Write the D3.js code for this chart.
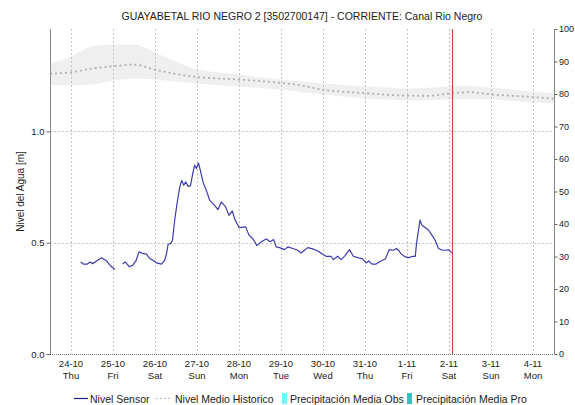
<!DOCTYPE html>
<html><head><meta charset="utf-8">
<script src="https://cdn.jsdelivr.net/npm/d3@7"></script>
<style>
body{margin:0;background:#fff}
svg{display:block}
text{font-family:"Liberation Sans",Arial,sans-serif;fill:#222}
</style>
</head><body>
<svg id="chart" width="575" height="405"></svg>
<script>
// Sensor water level [m]; null marks a gap in transmission
const sensorTime = [
  "2024-10-24 05:30","2024-10-24 07:00","2024-10-24 09:20","2024-10-24 10:50","2024-10-24 12:20",
  "2024-10-24 14:40","2024-10-24 17:30","2024-10-24 20:20","2024-10-24 22:40","2024-10-25 01:05",
  "2024-10-25 03:15",
  "2024-10-25 05:30","2024-10-25 07:00","2024-10-25 09:15","2024-10-25 11:10","2024-10-25 13:05",
  "2024-10-25 14:55","2024-10-25 16:50","2024-10-25 19:10","2024-10-25 21:00","2024-10-25 22:35",
  "2024-10-26 00:55","2024-10-26 03:45","2024-10-26 05:35","2024-10-26 06:35","2024-10-26 07:30",
  "2024-10-26 08:50","2024-10-26 10:00","2024-10-26 11:15","2024-10-26 12:35","2024-10-26 14:10",
  "2024-10-26 15:15","2024-10-26 16:25","2024-10-26 17:35","2024-10-26 18:55","2024-10-26 20:15",
  "2024-10-26 21:45","2024-10-26 22:40","2024-10-26 23:40","2024-10-27 00:50","2024-10-27 01:55",
  "2024-10-27 03:25","2024-10-27 05:20","2024-10-27 07:15","2024-10-27 10:05","2024-10-27 12:00",
  "2024-10-27 13:55","2024-10-27 16:20","2024-10-27 18:15","2024-10-27 20:10","2024-10-27 21:30",
  "2024-10-28 00:00","2024-10-28 03:50","2024-10-28 05:40","2024-10-28 07:55","2024-10-28 10:15",
  "2024-10-28 12:45","2024-10-28 15:35","2024-10-28 17:50","2024-10-28 19:45","2024-10-28 21:15",
  "2024-10-28 23:10","2024-10-29 02:00","2024-10-29 03:55","2024-10-29 06:45","2024-10-29 09:35",
  "2024-10-29 11:30","2024-10-29 15:20","2024-10-29 18:05","2024-10-29 21:00","2024-10-29 23:50",
  "2024-10-30 01:45","2024-10-30 04:35","2024-10-30 05:55","2024-10-30 08:25","2024-10-30 10:20",
  "2024-10-30 12:45","2024-10-30 15:05","2024-10-30 17:20","2024-10-30 19:50","2024-10-30 22:40",
  "2024-10-31 00:35","2024-10-31 02:05","2024-10-31 04:00","2024-10-31 06:20","2024-10-31 09:10",
  "2024-10-31 11:35","2024-10-31 12:55","2024-10-31 13:55","2024-10-31 16:10","2024-10-31 18:00",
  "2024-10-31 19:10","2024-10-31 20:30","2024-10-31 23:00","2024-11-01 01:15","2024-11-01 03:10",
  "2024-11-01 04:45","2024-11-01 05:25","2024-11-01 06:35","2024-11-01 07:25","2024-11-01 08:30",
  "2024-11-01 10:25","2024-11-01 12:20","2024-11-01 14:15","2024-11-01 16:05","2024-11-01 18:00",
  "2024-11-01 20:15","2024-11-01 22:15","2024-11-01 23:40","2024-11-02 01:35"
];
const sensorLevel = [
  0.414,0.404,0.404,0.413,0.406,
  0.418,0.432,0.418,0.395,0.380,
  null,
  0.404,0.414,0.392,0.398,0.418,
  0.459,0.452,0.449,0.429,0.422,
  0.409,0.404,0.422,0.451,0.493,
  0.496,0.511,0.601,0.676,0.750,
  0.780,0.758,0.773,0.753,0.755,
  0.818,0.848,0.833,0.858,0.825,
  0.773,0.735,0.691,0.668,0.649,
  0.683,0.661,0.623,0.643,0.608,
  0.568,0.571,0.534,0.518,0.487,
  0.504,0.517,0.504,0.514,0.481,
  0.478,0.469,0.481,0.474,0.466,
  0.454,0.478,0.472,0.463,0.448,
  0.439,0.439,0.424,0.439,0.424,
  0.443,0.469,0.439,0.433,0.427,
  0.409,0.418,0.404,0.404,0.418,
  0.427,0.451,0.469,0.466,0.474,
  0.466,0.451,0.436,0.433,0.439,
  0.439,0.496,0.556,0.601,0.578,
  0.568,0.556,0.534,0.511,0.474,
  0.466,0.466,0.469,0.454
];

// Historical mean level and its envelope [m], every 12 hours
const histTime = [
  "2024-10-23 12:00","2024-10-24 00:00","2024-10-24 12:00","2024-10-25 00:00","2024-10-25 12:00",
  "2024-10-26 00:00","2024-10-26 12:00","2024-10-27 00:00","2024-10-27 12:00","2024-10-28 00:00",
  "2024-10-28 12:00","2024-10-29 00:00","2024-10-29 12:00","2024-10-30 00:00","2024-10-30 12:00",
  "2024-10-31 00:00","2024-10-31 12:00","2024-11-01 00:00","2024-11-01 12:00","2024-11-02 00:00",
  "2024-11-02 12:00","2024-11-03 00:00","2024-11-03 12:00","2024-11-04 00:00","2024-11-04 12:00"
];
const histMean = [
  1.259,1.266,1.282,1.293,1.300,
  1.277,1.258,1.244,1.238,1.233,
  1.226,1.218,1.206,1.187,1.178,
  1.172,1.165,1.161,1.160,1.170,
  1.176,1.166,1.160,1.154,1.147
];
const histHigh = [
  1.305,1.336,1.381,1.390,1.390,
  1.354,1.314,1.278,1.265,1.256,
  1.242,1.233,1.224,1.215,1.208,
  1.202,1.197,1.193,1.196,1.202,
  1.204,1.196,1.188,1.178,1.172
];
const histLow = [
  1.211,1.206,1.211,1.229,1.238,
  1.233,1.224,1.215,1.208,1.202,
  1.195,1.188,1.177,1.166,1.157,
  1.148,1.143,1.139,1.140,1.143,
  1.146,1.143,1.137,1.130,1.126
];

// Daily mean precipitation [mm], observed and forecast
const precipDay = ["2024-10-24","2024-10-25","2024-10-26","2024-10-27","2024-10-28","2024-10-29",
                   "2024-10-30","2024-10-31","2024-11-01","2024-11-02","2024-11-03","2024-11-04"];
const precipObs = [0,0,0,0,0,0,0,0,0,null,null,null];
const precipPro = [null,null,null,null,null,null,null,null,null,0,0,0];

const levelTicks = [0, 0.5, 1.0];
const rainTicks = [0,10,20,30,40,50,60,70,80,90,100];
const nowTime = "2024-11-02 01:45";

const parseT = d3.timeParse("%Y-%m-%d %H:%M");
const parseD = d3.timeParse("%Y-%m-%d");

const L = 50, R = 554, T = 29, B = 354;

const svg = d3.select("#chart");

const x = d3.scaleTime()
  .domain([parseT("2024-10-23 12:00"), parseT("2024-11-04 12:00")])
  .range([L, R]);
const y = d3.scaleLinear().domain([0, 1.46]).range([B, T]);
const yRain = d3.scaleLinear().domain([0, 100]).range([B, T]);

const days = precipDay.map(parseD);

// historical envelope
const hist = histTime.map((t, i) => ({t: parseT(t), m: histMean[i], hi: histHigh[i], lo: histLow[i]}));
svg.append("path")
  .datum(hist)
  .attr("fill", "#efefef")
  .attr("d", d3.area().x(d => x(d.t)).y0(d => y(d.lo)).y1(d => y(d.hi)).curve(d3.curveMonotoneX));

// grid
const grid = svg.append("g").attr("stroke", "#c4c4c4").attr("stroke-dasharray", "2,2").attr("stroke-width", 1);
grid.selectAll("line.v").data(days).join("line")
  .attr("x1", d => Math.round(x(d)) + 0.5).attr("x2", d => Math.round(x(d)) + 0.5)
  .attr("y1", T).attr("y2", B);
grid.selectAll("line.h").data(levelTicks.filter(v => v > 0)).join("line")
  .attr("x1", L).attr("x2", R)
  .attr("y1", d => Math.round(y(d)) + 0.5).attr("y2", d => Math.round(y(d)) + 0.5);

// precipitation bars (right axis)
const barW = 10;
svg.append("g").selectAll("rect.obs").data(days.map((d, i) => ({d, v: precipObs[i]})).filter(p => p.v != null))
  .join("rect").attr("fill", "#6ff6ff")
  .attr("x", p => x(p.d) - barW / 2).attr("width", barW)
  .attr("y", p => yRain(p.v)).attr("height", p => B - yRain(p.v));
svg.append("g").selectAll("rect.pro").data(days.map((d, i) => ({d, v: precipPro[i]})).filter(p => p.v != null))
  .join("rect").attr("fill", "#3dbdbd")
  .attr("x", p => x(p.d) - barW / 2).attr("width", barW)
  .attr("y", p => yRain(p.v)).attr("height", p => B - yRain(p.v));

// historical mean
svg.append("path")
  .datum(hist)
  .attr("fill", "none").attr("stroke", "#b0b0b0").attr("stroke-width", 1.8)
  .attr("stroke-dasharray", "2,3")
  .attr("d", d3.line().x(d => x(d.t)).y(d => y(d.m)).curve(d3.curveMonotoneX));

// sensor level
const sensor = sensorTime.map((t, i) => ({t: parseT(t), v: sensorLevel[i]}));
svg.append("path")
  .datum(sensor)
  .attr("fill", "none").attr("stroke", "#3c3cb0").attr("stroke-width", 1.2)
  .attr("stroke-linejoin", "round")
  .attr("d", d3.line().defined(d => d.v != null).x(d => x(d.t)).y(d => y(d.v)));

// current time marker
svg.append("line")
  .attr("x1", Math.round(x(parseT(nowTime))) + 0.5).attr("x2", Math.round(x(parseT(nowTime))) + 0.5)
  .attr("y1", T).attr("y2", B)
  .attr("stroke", "#cc4b40").attr("stroke-width", 1.2);

// baseline
svg.append("line").attr("x1", L).attr("x2", R).attr("y1", B + 0.5).attr("y2", B + 0.5)
  .attr("stroke", "#777").attr("stroke-dasharray", "1,1");

// left axis
const yAxis = svg.append("g").attr("transform", `translate(${L + 0.5},0)`)
  .call(d3.axisLeft(y).tickValues(levelTicks).tickFormat(d3.format(".1f")).tickSize(4).tickSizeOuter(0));
yAxis.select(".domain").attr("stroke", "#888").attr("d", `M0,${T}V${B}`);
yAxis.selectAll(".tick line").attr("stroke", "#666");
yAxis.selectAll(".tick text").attr("font-size", 9.5).attr("x", -6).style("font-family", "Liberation Sans, Arial, sans-serif");

// right axis
const rAxis = svg.append("g").attr("transform", `translate(${R + 0.5},0)`)
  .call(d3.axisRight(yRain).tickValues(rainTicks).tickSize(3).tickSizeOuter(0));
rAxis.select(".domain").attr("stroke", "#888").attr("d", `M0,${T}V${B}`);
rAxis.selectAll(".tick line").attr("stroke", "#666");
rAxis.selectAll(".tick text").attr("font-size", 9).attr("x", 4.5).style("font-family", "Liberation Sans, Arial, sans-serif");

// x labels: date and weekday
const fmtDate = d3.timeFormat("%-d-%m");
const fmtDay = d3.timeFormat("%a");
const xl = svg.append("g").attr("font-size", 9.5).attr("text-anchor", "middle");
xl.selectAll("text.d").data(days).join("text").attr("x", d => x(d)).attr("y", B + 13).text(fmtDate);
xl.selectAll("text.w").data(days).join("text").attr("x", d => x(d)).attr("y", B + 25).text(fmtDay);

// title
svg.append("text").attr("x", (L + R) / 2).attr("y", 20).attr("text-anchor", "middle")
  .attr("font-size", 10.5)
  .text("GUAYABETAL RIO NEGRO 2 [3502700147] - CORRIENTE: Canal Rio Negro");

// y title
svg.append("text").attr("transform", `translate(24,${(T + B) / 2}) rotate(-90)`)
  .attr("text-anchor", "middle").attr("font-size", 10)
  .text("Nivel del Agua [m]");

// legend
const lg = svg.append("g").attr("font-size", 10.5);
const ly = 399;
lg.append("line").attr("x1", 74).attr("x2", 88).attr("y1", ly - 0.5).attr("y2", ly - 0.5).attr("stroke", "#1e1e8c").attr("stroke-width", 1.2);
lg.append("text").attr("x", 90).attr("y", ly + 3.5).text("Nivel Sensor");
lg.append("line").attr("x1", 156).attr("x2", 171).attr("y1", ly - 0.5).attr("y2", ly - 0.5).attr("stroke", "#bbb").attr("stroke-dasharray", "2,2");
lg.append("text").attr("x", 175).attr("y", ly + 3.5).text("Nivel Medio Historico");
lg.append("rect").attr("x", 282).attr("y", ly - 6).attr("width", 5).attr("height", 11).attr("fill", "#6ff6ff");
lg.append("text").attr("x", 290).attr("y", ly + 3.5).text("Precipitación Media Obs");
lg.append("rect").attr("x", 407).attr("y", ly - 6).attr("width", 5).attr("height", 11).attr("fill", "#3dbdbd");
lg.append("text").attr("x", 416).attr("y", ly + 3.5).text("Precipitación Media Pro");
</script>
</body></html>
